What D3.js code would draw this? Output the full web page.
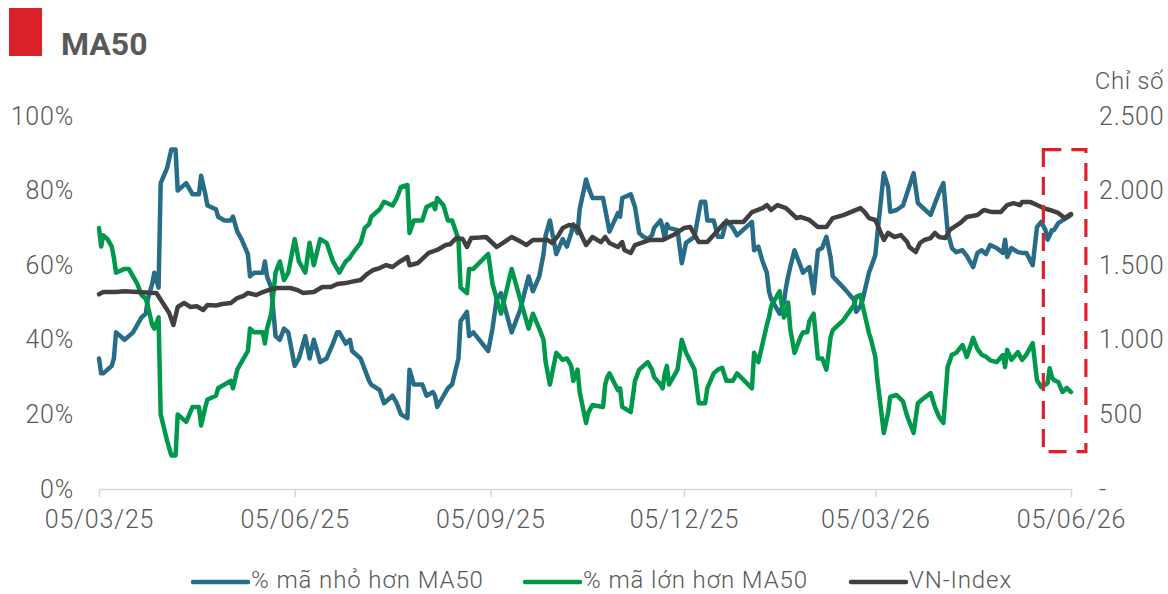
<!DOCTYPE html>
<html>
<head>
<meta charset="utf-8">
<script src="https://cdn.jsdelivr.net/npm/d3@7"></script>
<style>
  html, body { margin: 0; padding: 0; background: #ffffff; }
  svg { display: block; }
  text { font-family: Roboto, "Noto Sans", "DejaVu Sans", sans-serif; }
</style>
</head>
<body>
<div id="chart"></div>
<script>
// ---------- DATA ----------
const title = "MA50";
const rightAxisTitle = "Chỉ số";
const seriesNames = ["% mã nhỏ hơn MA50", "% mã lớn hơn MA50", "VN-Index"];

const breadthDates = [
"2025-03-05","2025-03-06","2025-03-07","2025-03-09","2025-03-11","2025-03-12","2025-03-13","2025-03-17","2025-03-19","2025-03-21",
"2025-03-23","2025-03-25","2025-03-27","2025-03-28","2025-03-30","2025-03-31","2025-04-02","2025-04-03","2025-04-06","2025-04-08",
"2025-04-10","2025-04-11","2025-04-13","2025-04-15","2025-04-18","2025-04-21","2025-04-22","2025-04-24","2025-04-25","2025-04-29",
"2025-04-30","2025-05-03","2025-05-06","2025-05-07","2025-05-09","2025-05-11","2025-05-14","2025-05-15","2025-05-17","2025-05-21",
"2025-05-22","2025-05-23","2025-05-25","2025-05-27","2025-05-29","2025-05-31","2025-06-02","2025-06-05","2025-06-07","2025-06-10",
"2025-06-12","2025-06-14","2025-06-17","2025-06-20","2025-06-23","2025-06-25","2025-06-26","2025-06-29","2025-07-01","2025-07-02",
"2025-07-06","2025-07-08","2025-07-10","2025-07-11","2025-07-15","2025-07-17","2025-07-21","2025-07-23","2025-07-25","2025-07-28",
"2025-07-29","2025-07-31","2025-08-04","2025-08-06","2025-08-09","2025-08-10","2025-08-11","2025-08-14","2025-08-16","2025-08-18",
"2025-08-21","2025-08-22","2025-08-25","2025-08-26","2025-08-28","2025-09-04","2025-09-06","2025-09-08","2025-09-10","2025-09-15",
"2025-09-19","2025-09-23","2025-09-25","2025-09-28","2025-09-30","2025-10-01","2025-10-03","2025-10-06","2025-10-09","2025-10-11",
"2025-10-13","2025-10-14","2025-10-16","2025-10-17","2025-10-20","2025-10-21","2025-10-23","2025-10-28","2025-10-29","2025-10-30",
"2025-10-31","2025-11-04","2025-11-05","2025-11-06","2025-11-10","2025-11-12","2025-11-14","2025-11-16","2025-11-18","2025-11-20",
"2025-11-21","2025-11-24","2025-11-25","2025-11-26","2025-11-27","2025-11-28","2025-12-02","2025-12-04","2025-12-06","2025-12-10",
"2025-12-12","2025-12-13","2025-12-15","2025-12-16","2025-12-19","2025-12-21","2025-12-23","2025-12-25","2025-12-28","2025-12-30",
"2026-01-06","2026-01-07","2026-01-09","2026-01-11","2026-01-13","2026-01-14","2026-01-15","2026-01-19","2026-01-21","2026-01-22",
"2026-01-23","2026-01-24","2026-01-26","2026-01-29","2026-01-30","2026-02-01","2026-02-02","2026-02-04","2026-02-06","2026-02-08",
"2026-02-10","2026-02-12","2026-02-13","2026-02-18","2026-02-23","2026-02-24","2026-02-26","2026-02-27","2026-03-02","2026-03-03",
"2026-03-05","2026-03-06","2026-03-09","2026-03-11","2026-03-12","2026-03-15","2026-03-18","2026-03-20","2026-03-23","2026-03-25",
"2026-03-27","2026-03-31","2026-04-02","2026-04-04","2026-04-06","2026-04-08","2026-04-10","2026-04-12","2026-04-15","2026-04-17",
"2026-04-20","2026-04-22","2026-04-24","2026-04-26","2026-04-28","2026-05-01","2026-05-04","2026-05-05","2026-05-06","2026-05-08",
"2026-05-11","2026-05-13","2026-05-15","2026-05-18","2026-05-20","2026-05-22","2026-05-24","2026-05-25","2026-05-26","2026-05-27",
"2026-05-28","2026-05-30","2026-06-01","2026-06-03","2026-06-05"
];

// % of stocks below MA50
const pctBelow = [
35,31,31,32,33,35,42,40,41,42,
44,46,47,51,55,58,54,82,86,91,
91,80,81,82,79,79,84,79,76,75,
73,72,72,73,69,67,63,57,58,58,
61,57,54,41,40,43,42,33,35,41,
35,40,34,35,39,42,42,39,40,37,
35,32,29,28,26.5,23,25,23,20,19,
32,28,28,25,26,25,22,25,27,28,
35,45,47.5,41,42,37,43,51,52.5,42,
48,57,53,57,63,68,72,63,67,65,
68.6,71,68.6,75,83,81,78,78,75,72,
69,74,73,78,79,75.6,68.6,67.6,67,68,
70,72,70,67,71,70,69.4,60.5,66,67.6,
74,77,77,72,72,67.6,67.6,72,70,68,
71.6,64,65,61,58,53,51,47,50,54,
57,59.5,64,59.5,58,59,59.5,52.5,64,64.6,
67.6,62,57,54,50.7,47.5,49,50.7,58,59.5,
62.7,68.6,84.7,81,74.3,74.8,76,79.4,84.7,76.7,
75.6,73.5,76.5,79.5,82,69,64.6,63.5,64,62.5,
59.5,63.3,64,63,65.4,64.6,63.3,66.8,62.2,64.6,
63.5,63.3,63.3,60,70.2,71.6,69.4,66.8,68,69.4,
69.4,71.3,72,72.7,73.5
];

// % of stocks above MA50
const pctAbove = [
70,65,68,67,65,62,58,59,59,57,
55,52,51,49,44,43,46,20,13,9,
9,20,19,18,22,22,17,22,24,25,
27,28,29,27,32,34,37,43,42,42,
39,43,47,58,61,56,58,67,61,58,
66,60,67,66,61,59,58,61,62,63,
66,70,71,73,75,77,76,78,81,81.5,
68.6,72,72,75.6,76.5,75,78,76,72,72,
67,54,52.5,59,59,63,55,51,47,59,
51,43,47,43,40,34,28,36.5,34.6,35,
33,29,32,26,17.7,20.4,22.5,22,28,30,
31,26.5,27,22,20.6,29,32,33,34,32,
30,28,27,31,33,28,32,40,36.5,32,
23,23,23,27,31,32,32.5,29,29,31,
27,36.5,34,39,44,46,49,53,46,47,
50,43,36.5,41,42,42,45,47,35,35,
32,40.8,42.6,45.3,49.3,51.5,52,49.3,41.8,40,
35.4,29.2,15,20.4,24.7,25.2,23.5,19.5,15,23,
24,25.7,22,19.3,17.7,32.7,36,36.5,38.6,35.4,
40.5,37.5,36,35.5,34.5,34,35.9,32.7,37.3,34.6,
36.7,34.6,36,39.1,29.2,27.3,28,28.4,32.4,30,
29.2,28.7,26,27.1,26
];

const indexDates = [
"2025-03-05","2025-03-07","2025-03-13","2025-03-17","2025-03-23","2025-03-29","2025-04-01","2025-04-04","2025-04-07","2025-04-09",
"2025-04-11","2025-04-14","2025-04-17","2025-04-20","2025-04-23","2025-04-25","2025-04-29","2025-05-02","2025-05-06","2025-05-09",
"2025-05-12","2025-05-14","2025-05-18","2025-05-21","2025-05-24","2025-05-28","2025-06-03","2025-06-06","2025-06-09","2025-06-14",
"2025-06-18","2025-06-22","2025-06-25","2025-06-29","2025-07-02","2025-07-06","2025-07-09","2025-07-12","2025-07-15","2025-07-18",
"2025-07-21","2025-07-24","2025-07-28","2025-07-29","2025-08-02","2025-08-07","2025-08-11","2025-08-15","2025-08-17","2025-08-20",
"2025-08-23","2025-08-25","2025-08-27","2025-08-31","2025-09-03","2025-09-08","2025-09-12","2025-09-15","2025-09-19","2025-09-22",
"2025-09-25","2025-10-02","2025-10-04","2025-10-07","2025-10-09","2025-10-12","2025-10-16","2025-10-20","2025-10-23","2025-10-27",
"2025-10-29","2025-10-31","2025-11-04","2025-11-06","2025-11-07","2025-11-10","2025-11-12","2025-11-19","2025-11-25","2025-11-30",
"2025-12-05","2025-12-08","2025-12-12","2025-12-16","2025-12-19","2025-12-24","2025-12-28","2026-01-02","2026-01-06","2026-01-11",
"2026-01-13","2026-01-15","2026-01-18","2026-01-22","2026-01-27","2026-01-29","2026-02-02","2026-02-06","2026-02-10","2026-02-13",
"2026-02-18","2026-02-26","2026-02-28","2026-03-02","2026-03-05","2026-03-07","2026-03-09","2026-03-11","2026-03-14","2026-03-17",
"2026-03-20","2026-03-21","2026-03-24","2026-03-26","2026-03-28","2026-03-31","2026-04-02","2026-04-04","2026-04-07","2026-04-09",
"2026-04-14","2026-04-17","2026-04-22","2026-04-25","2026-04-29","2026-05-03","2026-05-06","2026-05-09","2026-05-12","2026-05-13",
"2026-05-17","2026-05-20","2026-05-23","2026-05-26","2026-05-30","2026-06-02","2026-06-05"
];

const vnIndex = [
1305,1320,1320,1325,1320,1315,1314,1247,1180,1099,
1220,1247,1220,1225,1200,1233,1230,1240,1247,1280,
1295,1314,1300,1320,1335,1347,1347,1335,1314,1320,
1354,1354,1374,1380,1390,1401,1440,1468,1481,1501,
1488,1520,1555,1500,1515,1582,1602,1635,1640,1682,
1675,1622,1682,1685,1689,1622,1660,1689,1660,1635,
1669,1669,1649,1700,1749,1769,1756,1635,1689,1655,
1689,1649,1622,1655,1602,1582,1635,1669,1669,1702,
1749,1756,1655,1655,1702,1783,1789,1789,1856,1883,
1903,1870,1903,1883,1816,1823,1803,1756,1756,1816,
1836,1883,1856,1816,1803,1736,1669,1716,1689,1702,
1655,1622,1588,1649,1669,1682,1716,1689,1682,1736,
1783,1823,1836,1870,1856,1856,1903,1916,1903,1923,
1923,1903,1883,1870,1850,1816,1843
];

const xTickDates = ["2025-03-05","2025-06-05","2025-09-05","2025-12-05","2026-03-05","2026-06-05"];
const xTickLabels = ["05/03/25","05/06/25","05/09/25","05/12/25","05/03/26","05/06/26"];
const leftTicks = [0, 20, 40, 60, 80, 100];
const rightTicks = [0, 500, 1000, 1500, 2000, 2500];
const highlightRange = ["2026-05-23", "2026-06-12"]; // dashed highlight box (date span)
const highlightPct = [10, 91];                      // vertical span in %

// ---------- RENDER ----------
const W = 1168, H = 594;
const colors = ["#276d87", "#00984a", "#404040"];
const textColor = "#595959";
const parse = d3.timeParse("%Y-%m-%d");

const svg = d3.select("#chart").append("svg").attr("width", W).attr("height", H);
svg.append("rect").attr("width", W).attr("height", H).attr("fill", "#fff");

// title block
svg.append("rect").attr("x", 9).attr("y", 8).attr("width", 33).attr("height", 48).attr("fill", "#da2128");
svg.append("text").attr("x", 61).attr("y", 55).attr("font-size", 32).attr("font-weight", 700)
  .attr("fill", textColor).text(title);

const x = d3.scaleTime().domain([parse("2025-03-05"), parse("2026-06-05")]).range([99, 1071]);
const yL = d3.scaleLinear().domain([0, 100]).range([489, 116]);
const yR = d3.scaleLinear().domain([0, 2500]).range([489, 116]);

const vnLocale = d3.formatLocale({decimal: ",", thousands: ".", grouping: [3], currency: ["", ""]});
const fmtR = d => d === 0 ? "-" : vnLocale.format(",")(d);

const styleTicks = sel => sel.attr("font-size", 25).attr("font-weight", 300).attr("fill", textColor)
  .attr("font-family", "Roboto, sans-serif").attr("letter-spacing", 0.8);

// x axis
const xAxis = d3.axisBottom(x).tickValues(xTickDates.map(parse))
  .tickFormat((d, i) => xTickLabels[i]).tickSizeOuter(0).tickSizeInner(8).tickPadding(13);
const gx = svg.append("g").attr("transform", "translate(0,489)").call(xAxis);
gx.select(".domain").attr("stroke", "#d9d9d9").attr("stroke-width", 1.5);
gx.selectAll(".tick line").attr("stroke", "#d9d9d9").attr("stroke-width", 1.5);
styleTicks(gx.selectAll(".tick text"));

// left axis
const yAxisL = d3.axisLeft(yL).tickValues(leftTicks).tickFormat(d => d + "%").tickSize(0).tickPadding(0);
const gl = svg.append("g").attr("transform", "translate(74,0)").call(yAxisL);
gl.select(".domain").remove();
styleTicks(gl.selectAll(".tick text"));

// right axis
const yAxisR = d3.axisRight(yR).tickValues(rightTicks).tickFormat(fmtR).tickSize(0).tickPadding(0);
const gr = svg.append("g").attr("transform", "translate(1099,0)").call(yAxisR);
gr.select(".domain").remove();
styleTicks(gr.selectAll(".tick text"));

svg.append("text").attr("x", 1164).attr("y", 89).attr("text-anchor", "end")
  .attr("font-size", 24).attr("font-weight", 300).attr("letter-spacing", 0.6)
  .attr("fill", textColor).text(rightAxisTitle);

// lines
const lineL = d3.line().x(d => x(d[0])).y(d => yL(d[1]));
const lineR = d3.line().x(d => x(d[0])).y(d => yR(d[1]));
const bd = breadthDates.map(parse);
const drawn = [
  {d: lineL(bd.map((t, i) => [t, pctBelow[i]])), c: colors[0]},
  {d: lineL(bd.map((t, i) => [t, pctAbove[i]])), c: colors[1]},
  {d: lineR(indexDates.map((t, i) => [parse(t), vnIndex[i]])), c: colors[2]}
];
svg.append("g").selectAll("path").data(drawn).join("path")
  .attr("d", d => d.d).attr("fill", "none").attr("stroke", d => d.c)
  .attr("stroke-width", 4.5).attr("stroke-linejoin", "round").attr("stroke-linecap", "round");

// highlight box
const hx0 = x(parse(highlightRange[0])), hx1 = x(parse(highlightRange[1]));
svg.append("rect").attr("x", hx0).attr("y", yL(highlightPct[1]))
  .attr("width", hx1 - hx0).attr("height", yL(highlightPct[0]) - yL(highlightPct[1]))
  .attr("fill", "none").attr("stroke", "#e0202a").attr("stroke-width", 3.2)
  .attr("stroke-dasharray", "18 10");

// legend
const legendX = [193, 525, 851];
const lg = svg.append("g").selectAll("g").data(seriesNames).join("g")
  .attr("transform", (d, i) => `translate(${legendX[i]},582)`);
lg.append("line").attr("x1", 0).attr("x2", 55).attr("y1", 0).attr("y2", 0)
  .attr("stroke", (d, i) => colors[i]).attr("stroke-width", 4.5).attr("stroke-linecap", "round");
lg.append("text").attr("x", 58).attr("y", 6).attr("font-size", 24).attr("font-weight", 300)
  .attr("letter-spacing", 0.9).attr("fill", textColor).text(d => d);
</script>
</body>
</html>
